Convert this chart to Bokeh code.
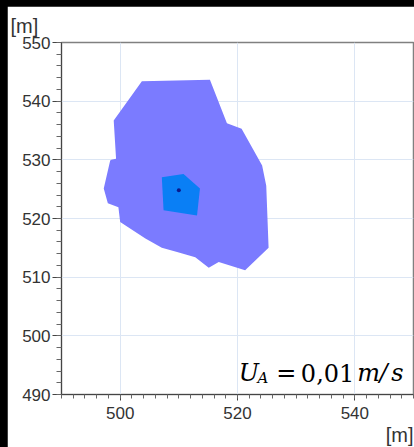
from bokeh.plotting import figure
from bokeh.models import Range1d, SingleIntervalTicker, Label, Title
from bokeh.layouts import column
from bokeh.embed import file_html
from bokeh.resources import INLINE

# ---- data ----
outer_x = [503.7, 515.3, 518.2, 520.7, 524.2, 524.9, 525.3, 521.3, 516.8, 515.1,
           512.8, 509.7, 507.1, 504.3, 500.0, 499.7, 497.9, 497.2, 498.3, 498.5,
           499.3, 498.9]
outer_y = [543.4, 543.65, 536.25, 535.3, 529.05, 525.6, 515.0, 511.2, 512.6, 511.6,
           513.4, 514.3, 515.0, 516.6, 519.4, 521.9, 522.6, 525.1, 529.9, 530.0,
           530.2, 536.7]
inner_x = [507.1, 510.8, 513.6, 513.1, 507.4]
inner_y = [527.05, 527.6, 525.1, 520.5, 521.4]
source_x = [510.0]
source_y = [524.8]

x_range = (490, 550)
y_range = (490, 550)
unit_label = "[m]"
caption_parts = ["U", "A", "=", "0,01", "m", "/", "s"]

p = figure(width=407, height=441, output_backend="svg", toolbar_location=None,
           x_range=Range1d(*x_range), y_range=Range1d(*y_range),
           min_border_left=54, min_border_right=1, min_border_top=36, min_border_bottom=53,
           background_fill_color="white", border_fill_color="white")

p.patch(outer_x, outer_y, fill_color="#7b7bff", line_color=None)
p.patch(inner_x, inner_y, fill_color="#0a7ff5", line_color=None)
p.scatter(source_x, source_y, size=4, fill_color="#0a1a8c", line_color=None)

p.xaxis.ticker = SingleIntervalTicker(interval=20, num_minor_ticks=10)
p.yaxis.ticker = SingleIntervalTicker(interval=10, num_minor_ticks=5)

for ax in (p.xaxis[0], p.yaxis[0]):
    ax.axis_line_color = "#444444"
    ax.major_tick_line_color = "#444444"
    ax.minor_tick_line_color = "#666666"
    ax.major_tick_in = 0
    ax.minor_tick_in = 0
    ax.major_label_text_font = "Liberation Sans"
    ax.major_label_text_font_size = "17px"
    ax.major_label_text_color = "#333333"

p.yaxis.major_tick_out = 9
p.yaxis.minor_tick_out = 5
p.yaxis.major_label_standoff = 2
p.xaxis.major_tick_out = 6
p.xaxis.minor_tick_out = 4
p.xaxis.major_label_standoff = 6

p.xgrid.grid_line_color = "#dce6f4"
p.ygrid.grid_line_color = "#dce6f4"
p.outline_line_color = "#808080"
p.outline_line_width = 1.5

# unit labels
p.add_layout(Title(text=unit_label, align="left", offset=-51, standoff=11,
                   text_font="Liberation Sans", text_font_size="20px",
                   text_font_style="normal", text_color="#333333"), "above")
p.add_layout(Title(text=unit_label, align="right", offset=0, standoff=0,
                   text_font="Liberation Sans", text_font_size="20px",
                   text_font_style="normal", text_color="#333333"), "below")

serif = "DejaVu Serif"
def cap(x, y, t, size="24px", style="italic"):
    p.add_layout(Label(x=x, y=y, text=t, text_font=serif, text_font_style=style,
                       text_font_size=size, text_color="black",
                       text_baseline="alphabetic"))

cap(520.2, 493.6, caption_parts[0])
cap(523.4, 492.75, caption_parts[1], size="15px")
cap(526.6, 493.6, caption_parts[2], style="normal")
cap(530.8, 493.6, caption_parts[3], style="normal")
cap(540.4, 493.6, caption_parts[4])
cap(544.2, 493.6, caption_parts[5])
cap(546.2, 493.6, caption_parts[6])

p.margin = (6, 0, 0, 7)
layout = column(p, styles={"background-color": "black"}, width=414, height=447)

open("out.html", "w").write(file_html(layout, INLINE))
